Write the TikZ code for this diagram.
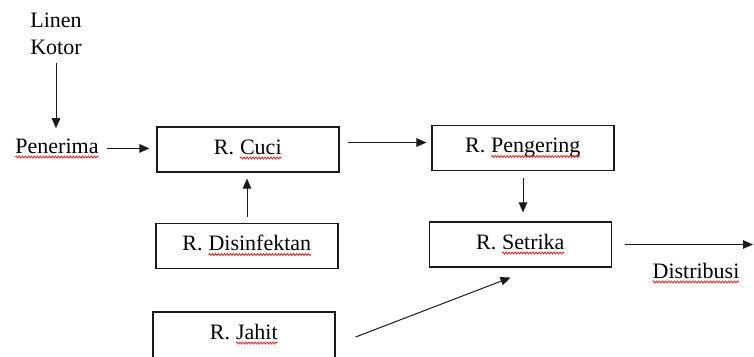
\documentclass[tikz,border=0pt]{standalone}
\usepackage{fontspec}
\setmainfont{Liberation Serif}
\usetikzlibrary{arrows.meta,positioning,decorations.pathmorphing}
\definecolor{lnink}{HTML}{1A1A1A}
\definecolor{lnred}{HTML}{E02020}
\tikzset{
  room/.style={draw=lnink, line width=1.1pt, minimum width=182pt, minimum height=45pt, text height=15pt, text depth=6pt, inner sep=0pt},
  lbl/.style={inner sep=0pt, align=center},
  arr/.style={-{Triangle[length=10pt,width=8.5pt]}, line width=1pt, color=lnink},
  wavy/.style={draw=lnred, line width=0.8pt, decorate, decoration={snake, amplitude=1pt, segment length=3pt}},
}
\newcommand{\spl}[1]{\tikz[baseline=0pt]{\node[inner sep=0pt, outer sep=0pt, minimum size=0pt, text height=, text depth=, draw=none, anchor=base west] (w) at (0pt,0pt) {#1}; \path[wavy] ([yshift=-4pt]w.base west) -- ([yshift=-4pt]w.base east);}}

\begin{document}
\begin{tikzpicture}[x=1pt,y=-1pt,font=\fontsize{22}{27}\selectfont]
  \clip (0,0) rectangle (754,356);
  \node[lbl, anchor=north] (linen) at (56,13) {Linen\\Kotor};
  \node[lbl, anchor=base] (penerima) at (57,153) {\spl{Penerima}};
  \node[room] (cuci) at (248,149.5) {R. \spl{Cuci}};
  \node[room] (pengering) at (523,148) {R. \spl{Pengering}};
  \node[room] (disinfektan) at (247,246) {R. \spl{Disinfektan}};
  \node[room] (setrika) at (520.5,244.5) {R. \spl{Setrika}};
  \node[room, minimum height=50pt, text depth=11pt] (jahit) at (244,337) {R. \spl{Jahit}};
  \node[lbl, anchor=base] (distribusi) at (696,278) {\spl{Distribusi}};
  \coordinate (keluar) at (754,244);

  \draw[arr, shorten <=8pt, shorten >=10pt] (linen.south) -- (linen.south |- penerima.north);
  \draw[arr, shorten <=8pt, shorten >=7pt] (penerima.east) -- (penerima.east -| cuci.west);
  \draw[arr, shorten <=8pt, shorten >=5pt] ([yshift=7pt]cuci.east) -- ([yshift=7pt]cuci.east -| pengering.west);
  \draw[arr, shorten <=6pt, shorten >=6pt] (disinfektan.north) -- (disinfektan.north |- cuci.south);
  \draw[arr, shorten <=7pt, shorten >=9pt] (pengering.south) -- (pengering.south |- setrika.north);
  \draw[arr, shorten <=13pt, shorten >=1pt] (setrika.east) -- (setrika.east -| keluar);
  \draw[arr] ([shift={(20pt,0pt)}]jahit.east) -- ([shift={(-10pt,-10pt)}]setrika.south);
\end{tikzpicture}
\end{document}
